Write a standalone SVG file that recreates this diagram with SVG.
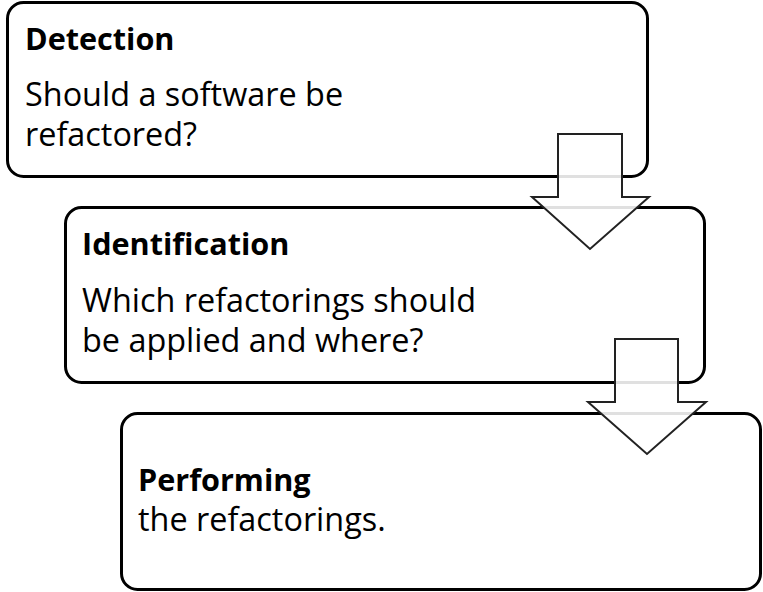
<svg xmlns="http://www.w3.org/2000/svg" width="763" height="592" viewBox="0 0 763 592">
<style>
.box{fill:#fff;stroke:#000;stroke-width:3}
.arrow{fill:#fff;fill-opacity:0.88;stroke:#222;stroke-width:2;stroke-linejoin:miter}
text{font-family:"Open Sans","Liberation Sans",sans-serif;font-size:32.4px;fill:#000}
.b{font-weight:bold;font-size:30.6px}
</style>
<g id="detection">
<rect class="box" x="7.5" y="2.5" width="640" height="174" rx="16"/>
<text class="b" x="25" y="50">Detection</text>
<text x="25" y="106">Should a software be</text>
<text x="25" y="146">refactored?</text>
</g>
<g id="identification">
<rect class="box" x="65.5" y="207.5" width="639" height="175" rx="16"/>
<text class="b" x="82" y="255">Identification</text>
<text x="82" y="312">Which refactorings should</text>
<text x="82" y="352">be applied and where?</text>
</g>
<g id="performing">
<rect class="box" x="121.5" y="413.5" width="639" height="176" rx="16"/>
<text class="b" x="138" y="491">Performing</text>
<text x="138" y="531">the refactorings.</text>
</g>
<g id="connectors">
<polygon class="arrow" points="558,134 622,134 622,197 649,197 590,249 532,197 558,197"/>
<polygon class="arrow" points="615,339 678,339 678,402 706,402 647,454 588,402 615,402"/>
</g>
</svg>
